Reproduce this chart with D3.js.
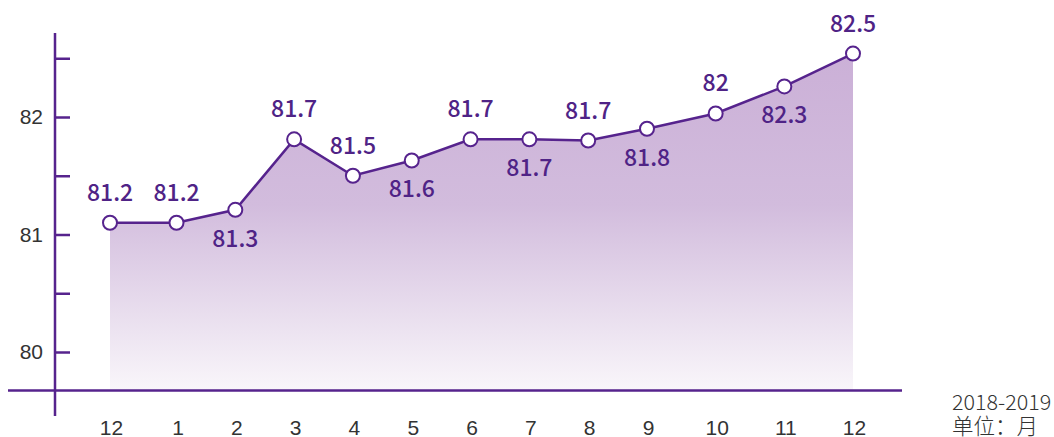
<!DOCTYPE html>
<html>
<head>
<meta charset="utf-8">
<script src="https://cdn.jsdelivr.net/npm/d3@7"></script>
<style>
  body { margin: 0; background: #fff; }
  svg { display: block; font-family: "Noto Sans CJK SC", "Noto Sans", sans-serif; }
  .tick-y text, .tick-x text { fill: #333; font-size: 21px; font-weight: 300; }
  .val { fill: #4f2386; font-size: 23px; font-weight: 500; text-anchor: middle; }
  .unit { fill: #333; font-size: 21.5px; font-weight: 300; }
</style>
</head>
<body>
<div id="viz"></div>
<script>
var width = 1054, height = 437;

// months on the x axis (Dec 2018 .. Dec 2019)
var months = ["12", "1", "2", "3", "4", "5", "6", "7", "8", "9", "10", "11", "12"];
// plotted values, as read from the point positions
var values = [81.1, 81.1, 81.21, 81.81, 81.5, 81.63, 81.81, 81.81, 81.8, 81.9, 82.03, 82.26, 82.54];
// values printed next to the points
var labels = ["81.2", "81.2", "81.3", "81.7", "81.5", "81.6", "81.7", "81.7", "81.7", "81.8", "82", "82.3", "82.5"];
var labelSide = ["up", "up", "down", "up", "up", "down", "up", "down", "up", "down", "up", "down", "up"];
var yTicks = [80, 80.5, 81, 81.5, 82, 82.5];

var purple = "#56238d";

var svg = d3.select("#viz").append("svg").attr("width", width).attr("height", height);

var x = d3.scaleLinear()
    .domain([0, 1, 9, 12])
    .range([110, 176.5, 647, 853]);

var y = d3.scaleLinear()
    .domain([80, 82])
    .range([352, 117]);

var baseY = 390.5;

// gradient for the area
var grad = svg.append("defs").append("linearGradient")
    .attr("id", "areaGrad")
    .attr("gradientUnits", "userSpaceOnUse")
    .attr("x1", 0).attr("x2", 0)
    .attr("y1", y(82.54)).attr("y2", baseY);
grad.append("stop").attr("offset", "0%").attr("stop-color", "#cbb0d7");
grad.append("stop").attr("offset", "45%").attr("stop-color", "#d2bcdd");
grad.append("stop").attr("offset", "100%").attr("stop-color", "#f9f6fa");

var area = d3.area()
    .x(function(d, i) { return x(i); })
    .y0(baseY)
    .y1(function(d) { return y(d); });

svg.append("path")
    .datum(values)
    .attr("d", area)
    .attr("fill", "url(#areaGrad)");

// y axis
var yAxis = d3.axisLeft(y)
    .tickValues(yTicks)
    .tickSize(-15)
    .tickPadding(12)
    .tickFormat(function(d) { return d % 1 === 0 ? d : ""; });

var gy = svg.append("g")
    .attr("class", "tick-y")
    .attr("transform", "translate(55,0)")
    .call(yAxis);
gy.select(".domain").remove();
gy.selectAll(".tick line").attr("stroke", purple).attr("stroke-width", 2.5);
gy.selectAll(".tick text").style("font-family", "inherit");

svg.append("line")
    .attr("x1", 55).attr("x2", 55)
    .attr("y1", 33).attr("y2", 416)
    .attr("stroke", purple).attr("stroke-width", 2.5);

// baseline
svg.append("line")
    .attr("x1", 8).attr("x2", 902)
    .attr("y1", baseY).attr("y2", baseY)
    .attr("stroke", purple).attr("stroke-width", 2.5);

// x axis labels
var xAxis = d3.axisBottom(x)
    .tickValues(d3.range(months.length))
    .tickSize(0)
    .tickPadding(30)
    .tickFormat(function(i) { return months[i]; });

var gx = svg.append("g")
    .attr("class", "tick-x")
    .attr("transform", "translate(1," + baseY + ")")
    .call(xAxis);
gx.select(".domain").remove();
gx.selectAll(".tick text").style("font-family", "inherit");

// line
var line = d3.line()
    .x(function(d, i) { return x(i); })
    .y(function(d) { return y(d); });

svg.append("path")
    .datum(values)
    .attr("d", line)
    .attr("fill", "none")
    .attr("stroke", purple)
    .attr("stroke-width", 2.5);

svg.selectAll("circle.pt")
    .data(values)
  .enter().append("circle")
    .attr("class", "pt")
    .attr("cx", function(d, i) { return x(i); })
    .attr("cy", function(d) { return y(d); })
    .attr("r", 7)
    .attr("fill", "#fff")
    .attr("stroke", purple)
    .attr("stroke-width", 2);

svg.selectAll("text.val")
    .data(values)
  .enter().append("text")
    .attr("class", "val")
    .attr("x", function(d, i) { return x(i); })
    .attr("y", function(d, i) { return labelSide[i] == "up" ? y(d) - 22 : y(d) + 37; })
    .text(function(d, i) { return labels[i]; });

// unit note
svg.append("text").attr("class", "unit")
    .attr("x", 952).attr("y", 410)
    .text("2018-2019");
svg.append("text").attr("class", "unit")
    .attr("x", 952).attr("y", 434)
    .text("单位：月");
</script>
</body>
</html>
